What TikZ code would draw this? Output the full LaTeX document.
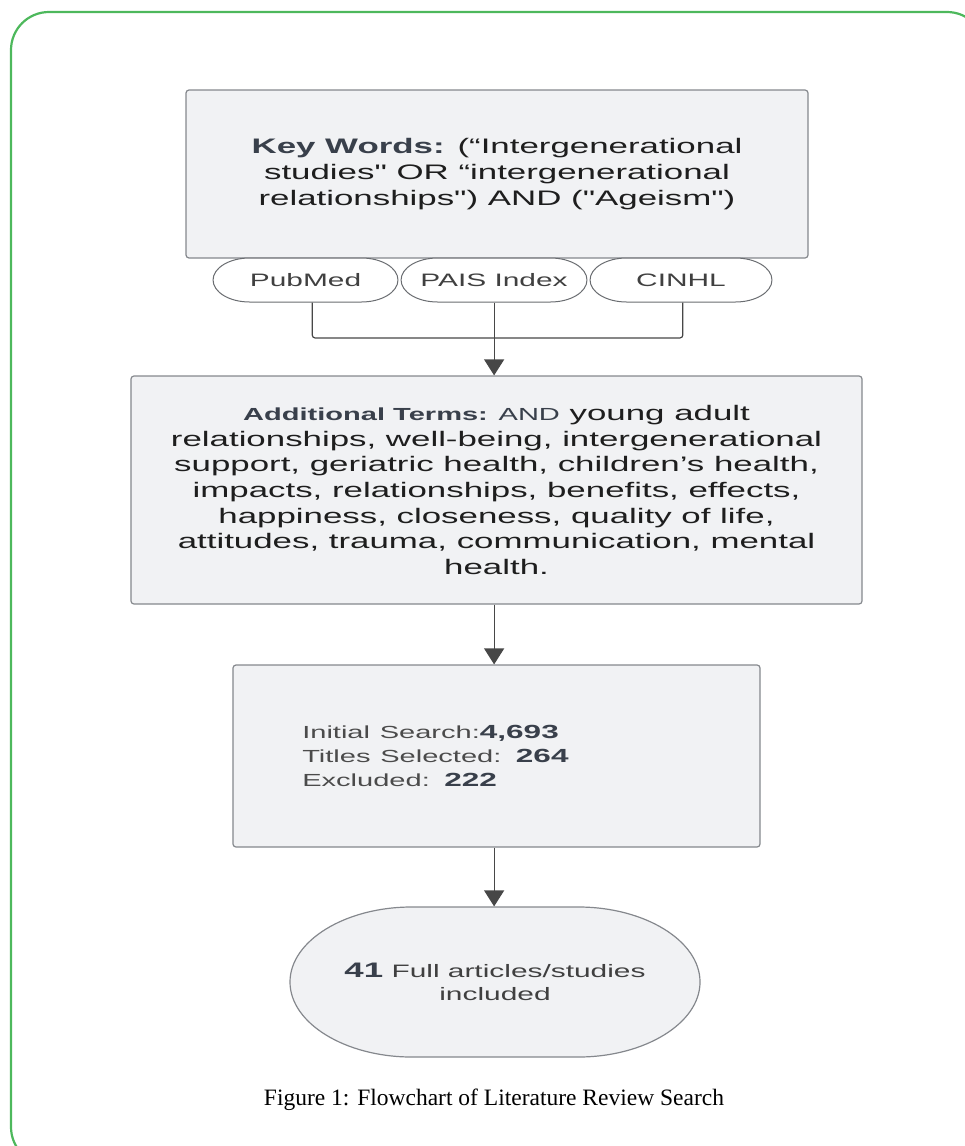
\documentclass[tikz,border=0pt]{standalone}
\usepackage{fontspec}
\setmainfont{Liberation Serif}
\setsansfont{Liberation Sans}
\usetikzlibrary{shapes.misc,arrows.meta}
\definecolor{boxgray}{HTML}{F1F2F4}
\definecolor{edgegray}{HTML}{85888D}
\definecolor{slate}{HTML}{39404B}
\definecolor{ink}{HTML}{1E1E1E}
\definecolor{framegreen}{HTML}{4DB85C}
\definecolor{wire}{HTML}{474747}
\newcommand{\tally}[1]{{\fontsize{19}{24}\selectfont\bfseries\color{slate}#1}}
% straight double quote, kept out of the TeX ligature mapping
\newcommand{\sq}{\XeTeXglyph\XeTeXcharglyph34\relax}

\begin{document}
\begin{tikzpicture}[x=1pt,y=-1pt,
    panel/.style={draw=edgegray,fill=boxgray,line width=1.2pt,rounded corners=3pt,inner sep=0pt,align=center,text=ink},
    dbase/.style={draw=edgegray!80!black,fill=white,line width=1pt,rounded rectangle,inner sep=0pt,minimum height=44pt,font=\sffamily\fontsize{18}{21}\selectfont,text=ink!85},
    link/.style={draw=wire,line width=1.2pt,rounded corners=3pt},
    flow/.style={link,-{Triangle[length=16pt,width=20pt]}}]
    \clip (0,0) rectangle (965,1146);
    \draw[framegreen,line width=2.2pt,rounded corners=38pt] (11,12) rectangle (985,1165);

    % flowchart, stretched sideways like the original
    \begin{scope}[x=0.60241pt,xscale=1.66,transform shape]
        \node[panel,minimum width=374.7pt,minimum height=168pt,font=\sffamily\fontsize{21}{26}\selectfont] (keys) at (497,174)
            {\textbf{\color{slate}Key Words:} (“Intergenerational\\ studies\sq{} OR “intergenerational\\ relationships\sq) AND (\sq Ageism\sq)};

        \node[dbase,minimum width=111.4pt] (pubmed) at (305.5,280) {PubMed};
        \node[dbase,minimum width=112pt] (pais) at (494,280) {PAIS Index};
        \node[dbase,minimum width=109.6pt] (cinhl) at (681,280) {CINHL};

        \node[panel,minimum width=440.4pt,minimum height=228pt,font=\sffamily\fontsize{21}{25.7}\selectfont] (terms) at (496.5,490)
            {{\fontsize{17.5}{25.7}\selectfont\color{slate}\textbf{Additional Terms:} AND} young adult\\
             relationships, well-being, intergenerational\\
             support, geriatric health, children’s health,\\
             impacts, relationships, benefits, effects,\\
             happiness, closeness, quality of life,\\
             attitudes, trauma, communication, mental\\
             health.};

        \node[panel,minimum width=317.5pt,minimum height=182pt,text width=234pt,align=left,text=ink!80,font=\sffamily\fontsize{17.5}{24}\selectfont] (counts) at (496.5,756)
            {Initial Search:\tally{4,693}\\ Titles Selected: \tally{264}\\ Excluded: \tally{222}};

        \node[panel,rounded rectangle,minimum width=247pt,minimum height=150pt,font=\sffamily\fontsize{18}{23}\selectfont,text=ink!85] (result) at (495,982)
            {{\fontsize{21}{23}\selectfont\bfseries\color{slate}41} Full articles/studies\\ included};

        \coordinate (join) at (494,338);
        \draw[link] ([xshift=4pt]pubmed.south) |- (join) -| ([xshift=1pt]cinhl.south);
        \draw[flow] (pais.south) -- (pais.south |- terms.north);
        \draw[flow] (terms.south -| pais.south) -- (counts.north -| pais.south);
        \draw[flow] (counts.south -| pais.south) -- (result.north -| pais.south);
    \end{scope}

    \node[font=\fontsize{23.5}{28}\selectfont] (caption) at (494,1100) {Figure 1: Flowchart of Literature Review Search};
\end{tikzpicture}
\end{document}
